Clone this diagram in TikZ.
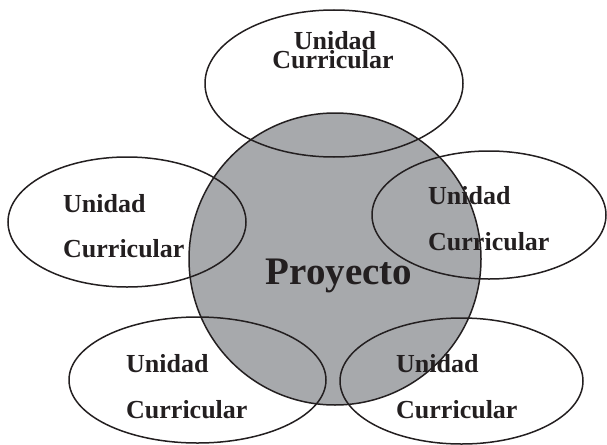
\documentclass[tikz,border=0pt]{standalone}
\usepackage{fontspec}
\setmainfont{Liberation Serif}
\usetikzlibrary{shapes.geometric}
\definecolor{projgrey}{RGB}{167,169,172}
\definecolor{ink}{RGB}{35,31,32}
\begin{document}
\begin{tikzpicture}[x=1pt,y=-1pt,
  oval/.style={draw=ink,ellipse,line width=1.5pt,inner sep=0pt,outer sep=0pt},
  lbl/.style={font=\bfseries\fontsize{26}{26}\selectfont,inner sep=0pt,text=ink},
  lblw/.style={lbl,anchor=base west},
  lblc/.style={lbl,anchor=base}]
\useasboundingbox (0,0) rectangle (607,444);
\node[circle,fill=projgrey,draw=ink,line width=1.5pt,minimum size=292pt,inner sep=0pt] (proj) at (335,259) {};
\node[font=\bfseries\fontsize{39}{39}\selectfont,anchor=base,inner sep=0pt,text=ink] (ptext) at (339,284) {Proyecto};
% ellipses
\node[oval,minimum width=258pt,minimum height=147pt] (top) at (334,83.5) {};
\node[oval,minimum width=238pt,minimum height=130pt] (left) at (127,222) {};
\node[oval,minimum width=234pt,minimum height=128pt] (right) at (489,215) {};
\node[oval,minimum width=257pt,minimum height=126pt] (bl) at (197.5,380) {};
\node[oval,minimum width=243pt,minimum height=126pt] (br) at (461.5,381) {};
% labels
\node[lblc,text depth=0pt] (t1) at (335,50) {Unidad};
\node[lblc,text height=16.5pt] (t2) at (333,68) {Curricular};
\node[lblw] (l1) at (63,212) {Unidad};
\node[lblw] (l2) at (63,257) {Curricular};
\node[lblw] (r1) at (428,204) {Unidad};
\node[lblw] (r2) at (428,250) {Curricular};
\node[lblw] (b1) at (126,372) {Unidad};
\node[lblw] (b2) at (126,418) {Curricular};
\node[lblw] (c1) at (396,372) {Unidad};
\node[lblw] (c2) at (396,418) {Curricular};
\end{tikzpicture}
\end{document}
